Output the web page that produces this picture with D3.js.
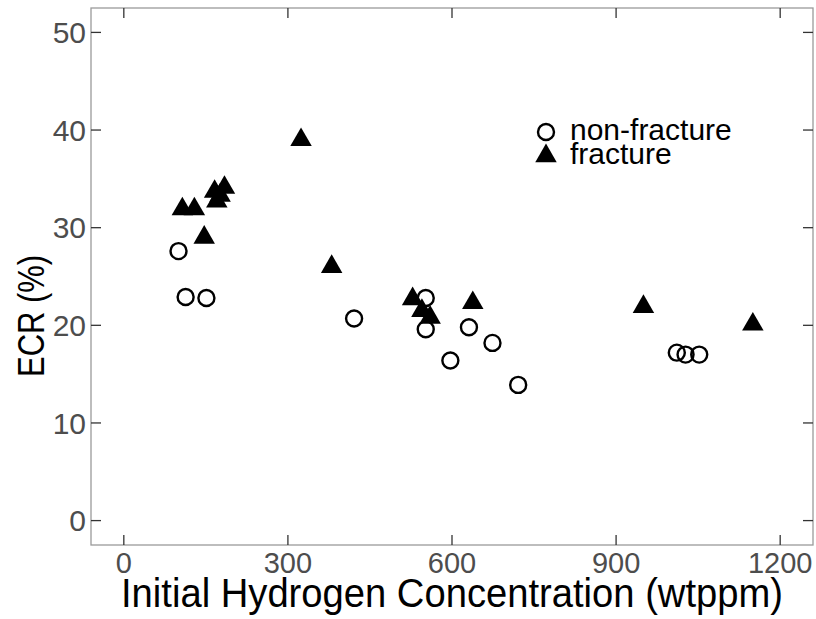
<!DOCTYPE html>
<html>
<head>
<meta charset="utf-8">
<script src="https://cdn.jsdelivr.net/npm/d3@7"></script>
<style>
  body { margin: 0; background: #fff; }
  text { font-family: "Liberation Sans", Arial, sans-serif; }
</style>
</head>
<body>
<svg id="chart" width="816" height="619"></svg>
<script>
// non-fracture (open circles)
const nonFracH = [100, 113, 151, 421, 552, 552, 597, 631, 674, 721, 1011, 1027, 1052];
const nonFracECR = [27.6, 22.9, 22.8, 20.7, 22.8, 19.6, 16.4, 19.8, 18.2, 13.9, 17.2, 17.0, 17.0];

// fracture (filled triangles)
const fracH = [107, 129, 147, 166, 184, 170, 176, 324, 380, 528, 545, 560, 638, 950, 1150];
const fracECR = [31.9, 31.9, 29.0, 33.7, 34.1, 32.7, 33.3, 39.0, 26.0, 22.7, 21.5, 20.8, 22.3, 21.9, 20.1];

const xTicks = [0, 300, 600, 900, 1200];
const yTicks = [0, 10, 20, 30, 40, 50];
const legendLabels = ["non-fracture", "fracture"];

const width = 816, height = 619;
const marginLeft = 91, marginRight = 3, marginTop = 8, marginBottom = 74;
const tickLen = 10;

const svg = d3.select("#chart");

const xScale = d3.scaleLinear()
  .domain([-60, 1260])
  .range([marginLeft, width - marginRight]);
const yScale = d3.scaleLinear()
  .domain([-2.5, 52.5])
  .range([height - marginBottom, marginTop]);

const x0 = marginLeft, x1 = width - marginRight;
const y0 = height - marginBottom, y1 = marginTop;

// panel border
svg.append("rect")
  .attr("x", x0)
  .attr("y", y1)
  .attr("width", x1 - x0)
  .attr("height", y0 - y1)
  .attr("fill", "none")
  .attr("stroke", "#9a9a9a")
  .attr("stroke-width", 1.3);

// inward ticks on all four sides
const tickColor = "#333";
svg.selectAll(".xTickB").data(xTicks).enter().append("line")
  .attr("class", "xTickB")
  .attr("x1", (d) => xScale(d)).attr("x2", (d) => xScale(d))
  .attr("y1", y0).attr("y2", y0 - tickLen)
  .attr("stroke", tickColor).attr("stroke-width", 1.3);
svg.selectAll(".xTickT").data(xTicks).enter().append("line")
  .attr("class", "xTickT")
  .attr("x1", (d) => xScale(d)).attr("x2", (d) => xScale(d))
  .attr("y1", y1).attr("y2", y1 + tickLen)
  .attr("stroke", tickColor).attr("stroke-width", 1.3);
svg.selectAll(".yTickL").data(yTicks).enter().append("line")
  .attr("class", "yTickL")
  .attr("y1", (d) => yScale(d)).attr("y2", (d) => yScale(d))
  .attr("x1", x0).attr("x2", x0 + tickLen)
  .attr("stroke", tickColor).attr("stroke-width", 1.3);
svg.selectAll(".yTickR").data(yTicks).enter().append("line")
  .attr("class", "yTickR")
  .attr("y1", (d) => yScale(d)).attr("y2", (d) => yScale(d))
  .attr("x1", x1).attr("x2", x1 - tickLen)
  .attr("stroke", tickColor).attr("stroke-width", 1.3);

// tick labels
svg.selectAll(".xLabel").data(xTicks).enter().append("text")
  .attr("class", "xLabel")
  .attr("x", (d) => xScale(d))
  .attr("y", y0 + 28)
  .attr("text-anchor", "middle")
  .attr("font-size", 29)
  .attr("fill", "#4d4d4d")
  .text((d) => d);
svg.selectAll(".yLabel").data(yTicks).enter().append("text")
  .attr("class", "yLabel")
  .attr("x", x0 - 5)
  .attr("y", (d) => yScale(d))
  .attr("dy", "0.36em")
  .attr("text-anchor", "end")
  .attr("font-size", 30)
  .attr("fill", "#4d4d4d")
  .text((d) => d);

// axis titles
svg.append("text")
  .attr("x", (x0 + x1) / 2)
  .attr("y", 607)
  .attr("text-anchor", "middle")
  .attr("font-size", 40)
  .attr("textLength", 662)
  .attr("lengthAdjust", "spacingAndGlyphs")
  .attr("fill", "#000")
  .text("Initial Hydrogen Concentration (wtppm)");
svg.append("text")
  .attr("transform", "translate(44, 316) rotate(-90)")
  .attr("text-anchor", "middle")
  .attr("font-size", 36)
  .attr("textLength", 122)
  .attr("lengthAdjust", "spacingAndGlyphs")
  .attr("fill", "#000")
  .text("ECR (%)");

// points
const circleData = nonFracH.map((h, i) => ({ h, e: nonFracECR[i] }));
const triData = fracH.map((h, i) => ({ h, e: fracECR[i] }));

svg.selectAll(".nonFrac").data(circleData).enter().append("circle")
  .attr("class", "nonFrac")
  .attr("cx", (d) => xScale(d.h))
  .attr("cy", (d) => yScale(d.e))
  .attr("r", 8)
  .attr("fill", "none")
  .attr("stroke", "#000")
  .attr("stroke-width", 2.4);

const tri = d3.symbol().type(d3.symbolTriangle).size(200);
svg.selectAll(".frac").data(triData).enter().append("path")
  .attr("class", "frac")
  .attr("transform", (d) => `translate(${xScale(d.h)},${yScale(d.e)})`)
  .attr("d", tri)
  .attr("fill", "#000");

// legend
const legX = 546, legY = 132, legGap = 24;
svg.append("circle")
  .attr("cx", legX).attr("cy", legY).attr("r", 8)
  .attr("fill", "none").attr("stroke", "#000").attr("stroke-width", 2.4);
svg.append("path")
  .attr("transform", `translate(${legX},${legY + legGap})`)
  .attr("d", tri)
  .attr("fill", "#000");
svg.selectAll(".legText").data(legendLabels).enter().append("text")
  .attr("class", "legText")
  .attr("x", legX + 24)
  .attr("y", (d, i) => legY + i * legGap + 8)
  .attr("font-size", 30)
  .attr("fill", "#000")
  .text((d) => d);
</script>
</body>
</html>
